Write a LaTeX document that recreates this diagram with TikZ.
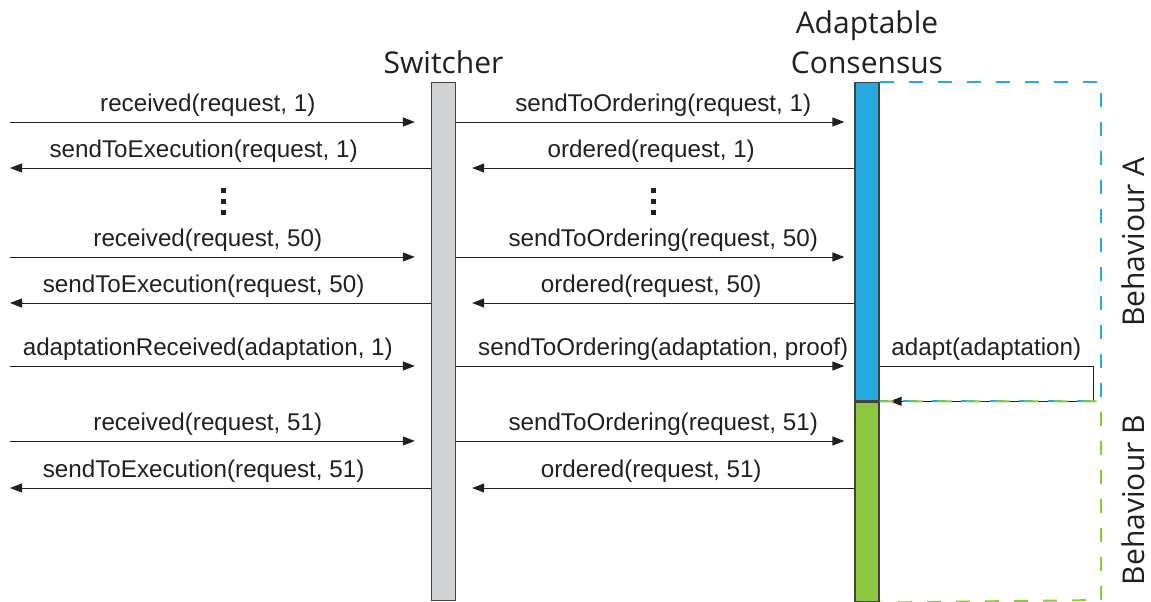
\documentclass[tikz,border=0pt]{standalone}
\usepackage{fontspec}
\setmainfont{Liberation Sans}
\newfontfamily\headfont{Open Sans}
\usepackage{xcolor}
\usepackage{tikz}
\usetikzlibrary{arrows.meta,positioning}
\definecolor{bargray}{RGB}{209,210,212}
\definecolor{bhblue}{RGB}{39,170,225}
\definecolor{bhgreen}{RGB}{141,198,63}
\definecolor{ink}{RGB}{35,31,32}

\begin{document}
\begin{tikzpicture}[x=1pt, y=-1pt,
    msg/.style={-{Triangle[length=12pt,width=9pt]}, line width=1pt, color=ink},
    lbl/.style={above, inner sep=0pt, yshift=5pt, font=\fontsize{24.2}{29}\selectfont, text=ink},
    head/.style={inner sep=0pt, font=\headfont\fontsize{30}{36}\selectfont, text=ink},
    bar/.style={draw=ink!85, line width=1.3pt, minimum width=24pt, inner sep=0pt, anchor=north},
    dashbox/.style={line width=2pt, dash pattern=on 14pt off 15pt},
    dot/.style={fill=ink}]
    \useasboundingbox (0,0) rectangle (1151,602);

    % lifelines
    \node[bar, fill=bargray, minimum height=518pt] (sw) at (443.5,82) {};
    \node[bar, fill=bhblue, minimum height=318pt] (ca) at (867,82) {};
    \node[bar, fill=bhgreen, minimum height=200pt] (cb) at (ca.south) {};

    \node[head, anchor=base] (swt) at ([yshift=8pt]sw.north) {Switcher};
    \node[head, anchor=base] (cons) at ([yshift=8pt]ca.north) {Consensus};
    \node[head, anchor=base] (adap) at ([yshift=40pt]cons.base) {Adaptable};

    % behaviour boxes
    \coordinate (ra) at (1101,82);
    \coordinate (rb) at (1101,600);
    \coordinate (adp) at (1093,366);

    % rows
    \coordinate (r1) at (10,122);
    \coordinate (r2) at (10,168);
    \coordinate (r3) at (10,257);
    \coordinate (r4) at (10,303);
    \coordinate (r5) at (10,366);
    \coordinate (r6) at (10,441);
    \coordinate (r7) at (10,488);

    \draw[msg, shorten >=16pt] (r1) -- node[lbl, pos=0.47] {received(request, 1)} (sw.west |- r1);
    \draw[msg] (sw.west |- r2) -- node[lbl, pos=0.54] {sendToExecution(request, 1)} (r2);
    \draw[msg, shorten >=16pt] (r3) -- node[lbl, pos=0.47] {received(request, 50)} (sw.west |- r3);
    \draw[msg] (sw.west |- r4) -- node[lbl, pos=0.54] {sendToExecution(request, 50)} (r4);
    \draw[msg, shorten >=16pt] (r5) -- node[lbl, pos=0.47] {adaptationReceived(adaptation, 1)} (sw.west |- r5);
    \draw[msg, shorten >=16pt] (r6) -- node[lbl, pos=0.47] {received(request, 51)} (sw.west |- r6);
    \draw[msg] (sw.west |- r7) -- node[lbl, pos=0.54] {sendToExecution(request, 51)} (r7);

    \draw[msg, shorten >=10pt] (sw.east |- r1) -- node[lbl, pos=0.52] {sendToOrdering(request, 1)} (ca.west |- r1);
    \draw[msg, shorten >=16pt] (ca.west |- r2) -- node[lbl, pos=0.51] {ordered(request, 1)} (sw.east |- r2);
    \draw[msg, shorten >=10pt] (sw.east |- r3) -- node[lbl, pos=0.52] {sendToOrdering(request, 50)} (ca.west |- r3);
    \draw[msg, shorten >=16pt] (ca.west |- r4) -- node[lbl, pos=0.51] {ordered(request, 50)} (sw.east |- r4);
    \draw[msg, shorten >=10pt] (sw.east |- r5) -- node[lbl, pos=0.52] {sendToOrdering(adaptation, proof)} (ca.west |- r5);
    \draw[msg, shorten >=10pt] (sw.east |- r6) -- node[lbl, pos=0.52] {sendToOrdering(request, 51)} (cb.west |- r6);
    \draw[msg, shorten >=16pt] (cb.west |- r7) -- node[lbl, pos=0.51] {ordered(request, 51)} (sw.east |- r7);

    \draw[msg, shorten >=10pt] (ca.east |- adp) -- node[lbl] {adapt(adaptation)} (adp) |- (ca.south east);

    \draw[dashbox, bhblue] (ca.north east) -- (ra) -- (ra |- ca.south) -- (ca.south east);
    \draw[dashbox, bhgreen] (cb.north east) -- (ra |- cb.north) -- (rb) -- (cb.south east);

    \node[head, rotate=90] (bha) at (1133,242) {Behaviour A};
    \node[head, rotate=90] (bhb) at (1133,500) {Behaviour B};

    % ellipsis dots
    \foreach \y in {190,201,212} {
        \fill[dot] (220.5,\y-2.5) rectangle ++(5,5);
        \fill[dot] (650.5,\y-2.5) rectangle ++(5,5);
    }
\end{tikzpicture}
\end{document}
